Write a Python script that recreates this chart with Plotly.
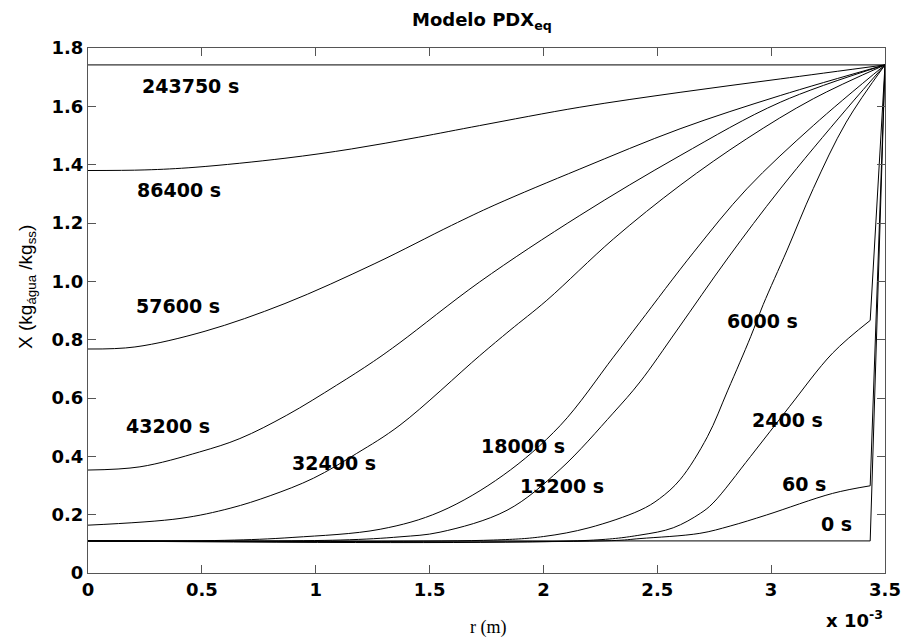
import plotly.graph_objects as go

# r in units of 10^-3 m, X in kg_agua/kg_ss
r_0 = [0, 3.435, 3.5]
X_0 = [0.11, 0.11, 1.742]

r_60 = [0, 2.3, 2.424, 2.687, 2.82, 2.98, 3.27, 3.435, 3.5]
X_60 = [0.11, 0.111, 0.118, 0.136, 0.161, 0.199, 0.273, 0.299, 1.742]

r_2400 = [0, 2.2, 2.424, 2.57, 2.69, 2.745, 2.91, 3.08, 3.27, 3.435, 3.5]
X_2400 = [0.11, 0.112, 0.13, 0.155, 0.205, 0.24, 0.40, 0.57, 0.754, 0.866, 1.742]

r_6000 = [0, 1.78, 2.0, 2.2, 2.424, 2.51, 2.60, 2.72, 2.81, 2.91, 2.965, 3.07, 3.185, 3.33, 3.5]
X_6000 = [0.11, 0.113, 0.125, 0.155, 0.215, 0.255, 0.32, 0.467, 0.627, 0.81, 0.92, 1.107, 1.318, 1.546, 1.742]

r_13200 = [0, 1.107, 1.37, 1.546, 1.84, 2.073, 2.306, 2.424, 2.587, 2.81, 3.04, 3.33, 3.5]
X_13200 = [0.11, 0.113, 0.124, 0.14, 0.215, 0.355, 0.548, 0.655, 0.833, 1.08, 1.317, 1.59, 1.742]

r_18000 = [0, 0.6, 0.9, 1.283, 1.546, 1.823, 2.073, 2.307, 2.424, 2.66, 2.893, 3.185, 3.5]
X_18000 = [0.11, 0.112, 0.122, 0.15, 0.21, 0.335, 0.505, 0.74, 0.86, 1.1, 1.317, 1.534, 1.742]

r_32400 = [0, 0.404, 0.624, 0.8, 0.99, 1.18, 1.37, 1.72, 1.853, 2.015, 2.307, 2.6, 2.893, 3.185, 3.5]
X_32400 = [0.164, 0.187, 0.222, 0.265, 0.325, 0.41, 0.507, 0.745, 0.832, 0.935, 1.145, 1.329, 1.489, 1.626, 1.742]

r_43200 = [0, 0.228, 0.49, 0.667, 0.873, 1.092, 1.253, 1.37, 1.72, 2.16, 2.60, 3.04, 3.5]
X_43200 = [0.353, 0.364, 0.415, 0.461, 0.541, 0.644, 0.725, 0.79, 0.998, 1.226, 1.431, 1.614, 1.742]

r_57600 = [0, 0.206, 0.514, 0.865, 1.26, 1.597, 1.787, 2.16, 2.60, 3.04, 3.5]
X_57600 = [0.768, 0.775, 0.829, 0.924, 1.061, 1.192, 1.262, 1.385, 1.523, 1.637, 1.742]

r_86400 = [0, 0.25, 0.47, 0.865, 1.158, 1.45, 1.72, 2.16, 2.60, 3.04, 3.5]
X_86400 = [1.380, 1.382, 1.391, 1.422, 1.454, 1.494, 1.534, 1.597, 1.648, 1.694, 1.742]

r_243750 = [0, 3.5]
X_243750 = [1.742, 1.742]

# (label, r, X, has surface kink between last two nodes)
curves = [
    ("0 s", r_0, X_0, True), ("60 s", r_60, X_60, True), ("2400 s", r_2400, X_2400, True),
    ("6000 s", r_6000, X_6000, False), ("13200 s", r_13200, X_13200, False),
    ("18000 s", r_18000, X_18000, False), ("32400 s", r_32400, X_32400, False),
    ("43200 s", r_43200, X_43200, False), ("57600 s", r_57600, X_57600, False),
    ("86400 s", r_86400, X_86400, False), ("243750 s", r_243750, X_243750, False),
]

# curve label positions (r, X)
label_text = ["243750 s", "86400 s", "57600 s", "43200 s", "32400 s", "18000 s",
              "13200 s", "6000 s", "2400 s", "60 s", "0 s"]
label_r = [0.452, 0.40, 0.397, 0.352, 1.08, 1.911, 2.08, 2.96, 3.072, 3.145, 3.285]
label_X = [1.671, 1.312, 0.915, 0.503, 0.376, 0.435, 0.299, 0.863, 0.524, 0.305, 0.168]

x_ticks = [0, 0.5, 1, 1.5, 2, 2.5, 3, 3.5]
x_ticktext = ["0", "0.5", "1", "1.5", "2", "2.5", "3", "3.5"]
y_ticks = [0, 0.2, 0.4, 0.6, 0.8, 1.0, 1.2, 1.4, 1.6, 1.8]
y_ticktext = ["0", "0.2", "0.4", "0.6", "0.8", "1.0", "1.2", "1.4", "1.6", "1.8"]

fig = go.Figure()
line_style = dict(color="black", width=1)
for name, r, X, kink in curves:
    if kink:
        fig.add_trace(go.Scatter(x=r[:-1], y=X[:-1], mode="lines", name=name,
                                 line=dict(shape="spline", smoothing=1.0, **line_style),
                                 showlegend=False))
        fig.add_trace(go.Scatter(x=r[-2:], y=X[-2:], mode="lines", name=name,
                                 line=line_style, showlegend=False))
    else:
        fig.add_trace(go.Scatter(x=r, y=X, mode="lines", name=name,
                                 line=dict(shape="spline", smoothing=1.0, **line_style),
                                 showlegend=False))

bold = dict(family="DejaVu Sans", size=19, color="black", weight="bold")
for t, rr, xx in zip(label_text, label_r, label_X):
    fig.add_annotation(x=rr, y=xx, xref="x", yref="y", text=t, showarrow=False,
                       font=bold, xanchor="center", yanchor="middle")

fig.add_annotation(x=0.494, y=1.051, xref="paper", yref="paper",
                   text="<b>Modelo PDX<sub>eq</sub></b>", showarrow=False,
                   font=dict(family="DejaVu Sans", size=18, color="black"),
                   xanchor="center", yanchor="middle")
fig.add_annotation(x=-0.0765, y=0.545, xref="paper", yref="paper", textangle=-90,
                   text="X (kg<sub>água</sub> /kg<sub>ss</sub>)", showarrow=False,
                   font=dict(family="Liberation Sans", size=19, color="black"),
                   xanchor="center", yanchor="middle")
fig.add_annotation(x=0.502, y=-0.103, xref="paper", yref="paper",
                   text="r (m)", showarrow=False,
                   font=dict(family="Liberation Serif", size=18, color="black"),
                   xanchor="center", yanchor="middle")
fig.add_annotation(x=1.0, y=-0.088, xref="paper", yref="paper",
                   text="<b>x 10<sup>-3</sup></b>", showarrow=False,
                   font=dict(family="DejaVu Sans", size=18, color="black"),
                   xanchor="right", yanchor="middle")

axis_common = dict(showgrid=False, zeroline=False, showline=True, linecolor="#555555",
                   linewidth=1, ticks="inside", ticklen=8, tickcolor="#555555",
                   mirror="allticks", automargin=False,
                   tickfont=dict(family="DejaVu Sans", size=18, color="black", weight="bold"))
fig.update_xaxes(range=[0, 3.5], tickvals=x_ticks, ticktext=x_ticktext, **axis_common)
fig.update_yaxes(range=[0, 1.8], tickvals=y_ticks, ticktext=y_ticktext, **axis_common)

fig.update_layout(width=906, height=639, margin=dict(l=88, r=21, t=48, b=66),
                  plot_bgcolor="white", paper_bgcolor="white")

fig.write_html("out.html")
